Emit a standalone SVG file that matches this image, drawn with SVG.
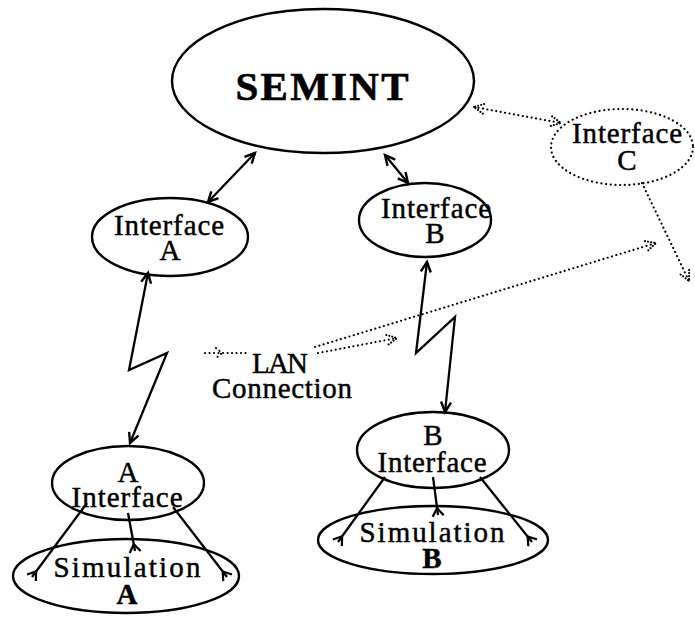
<svg xmlns="http://www.w3.org/2000/svg" width="695" height="617" viewBox="0 0 695 617">
  <style>
    .node { fill: none; stroke: #000; stroke-width: 2.4; }
    .dotnode { fill: none; stroke: #000; stroke-width: 2.2; stroke-dasharray: 0.1 4.6; stroke-linecap: round; }
    .wire { fill: none; stroke: #000; stroke-width: 2.3; stroke-linejoin: miter; }
    .dots { fill: none; stroke: #000; stroke-width: 2.1; stroke-dasharray: 0.1 4.4; stroke-linecap: round; }
    text { font-family: "Liberation Serif", "DejaVu Serif", serif; fill: #000; stroke: #000; stroke-width: 0.45; text-anchor: middle; }
    .lbl { font-size: 29px; }
    .big { font-size: 41px; font-weight: bold; stroke-width: 0.6; }
    .bold { font-size: 29px; font-weight: bold; }
  </style>
  <defs>
    <marker id="arrow" markerUnits="userSpaceOnUse" markerWidth="24" markerHeight="24" viewBox="-12 -12 24 24" refX="0" refY="0" orient="auto-start-reverse" overflow="visible">
      <path d="M -10,-5 L 0,0 L -10,5" fill="none" stroke="#000" stroke-width="2.4"/>
    </marker>
    <marker id="crowfoot" markerUnits="userSpaceOnUse" markerWidth="24" markerHeight="24" viewBox="-12 -12 24 24" refX="0" refY="0" orient="auto" overflow="visible">
      <path d="M -7,0 L 1,-5.5 M -7,0 L 1,5.5" fill="none" stroke="#000" stroke-width="2.2"/>
    </marker>
    <marker id="dotarrow" markerUnits="userSpaceOnUse" markerWidth="24" markerHeight="24" viewBox="-12 -12 24 24" refX="0" refY="0" orient="auto-start-reverse" overflow="visible">
      <path d="M -10,-5 L 0,0 L -10,5" fill="none" stroke="#000" stroke-width="2.1" stroke-dasharray="0.1 3" stroke-linecap="round"/>
    </marker>
  </defs>

  <!-- main server -->
  <g id="semint">
    <ellipse class="node" cx="323" cy="81" rx="151" ry="72"/>
    <text class="big" x="322" y="100" textLength="173" lengthAdjust="spacing">SEMINT</text>
  </g>

  <g id="interface-a">
    <ellipse class="node" cx="170" cy="237" rx="78" ry="39"/>
    <text class="lbl" x="169" y="235" textLength="110" lengthAdjust="spacing">Interface</text>
    <text class="lbl" x="170" y="260">A</text>
  </g>

  <g id="interface-b">
    <ellipse class="node" cx="425" cy="220" rx="66" ry="37"/>
    <text class="lbl" x="436" y="218" textLength="110" lengthAdjust="spacing">Interface</text>
    <text class="lbl" x="435" y="243">B</text>
  </g>

  <g id="interface-c">
    <ellipse class="dotnode" cx="622" cy="147" rx="71" ry="38"/>
    <text class="lbl" x="627" y="143" textLength="110" lengthAdjust="spacing">Interface</text>
    <text class="lbl" x="627" y="170">C</text>
  </g>

  <g id="lan-label">
    <text class="lbl" x="280" y="373" textLength="56" lengthAdjust="spacing">LAN</text>
    <text class="lbl" x="282" y="398" textLength="140" lengthAdjust="spacing">Connection</text>
  </g>

  <g id="a-interface">
    <ellipse class="node" cx="128" cy="483" rx="76" ry="37"/>
    <text class="lbl" x="128" y="482">A</text>
    <text class="lbl" x="127" y="507" textLength="111" lengthAdjust="spacing">Interface</text>
  </g>

  <g id="simulation-a">
    <ellipse class="node" cx="126" cy="576" rx="113" ry="37"/>
    <text class="lbl" x="127" y="577" textLength="147" lengthAdjust="spacing">Simulation</text>
    <text class="bold" x="127" y="604">A</text>
  </g>

  <g id="b-interface">
    <ellipse class="node" cx="433" cy="450" rx="76" ry="38"/>
    <text class="lbl" x="433" y="445">B</text>
    <text class="lbl" x="432" y="472" textLength="109" lengthAdjust="spacing">Interface</text>
  </g>

  <g id="simulation-b">
    <ellipse class="node" cx="433" cy="540" rx="115" ry="34"/>
    <text class="lbl" x="432" y="542" textLength="145" lengthAdjust="spacing">Simulation</text>
    <text class="bold" x="432" y="568">B</text>
  </g>

  <g id="connectors">
    <!-- server links -->
    <path class="wire" d="M 255,153 L 208,202" marker-start="url(#arrow)" marker-end="url(#arrow)"/>
    <path class="wire" d="M 385,155 L 408,183" marker-start="url(#arrow)" marker-end="url(#arrow)"/>
    <!-- network links (lightning) -->
    <path class="wire" d="M 148,273 L 129,370 L 167,353 L 130,443" marker-start="url(#arrow)" marker-end="url(#arrow)"/>
    <path class="wire" d="M 427,262 L 416,353 L 455,317 L 445,412" marker-start="url(#arrow)" marker-end="url(#arrow)"/>
    <!-- interface to simulation -->
    <path class="wire" d="M 87,503 L 32,577" marker-end="url(#crowfoot)"/>
    <path class="wire" d="M 128,513 L 135,551" marker-end="url(#crowfoot)"/>
    <path class="wire" d="M 173,507 L 227,577" marker-end="url(#crowfoot)"/>
    <path class="wire" d="M 385,477 L 338,542" marker-end="url(#crowfoot)"/>
    <path class="wire" d="M 433,477 L 438,515" marker-end="url(#crowfoot)"/>
    <path class="wire" d="M 480,477 L 532,542" marker-end="url(#crowfoot)"/>
    <!-- optional links (dotted) -->
    <path class="dots" d="M 474,107 L 561,123" marker-start="url(#dotarrow)" marker-end="url(#dotarrow)"/>
    <path class="dots" d="M 642,183 L 689,281" marker-end="url(#dotarrow)"/>
    <path class="dots" d="M 315,347 L 656,243" marker-end="url(#dotarrow)"/>
    <path class="dots" d="M 318,353 L 397,338" marker-end="url(#dotarrow)"/>
    <path class="dots" d="M 205,353 L 246,353"/>
    <path class="dots" d="M 216,348 L 222,353 L 216,358"/>
  </g>
</svg>
